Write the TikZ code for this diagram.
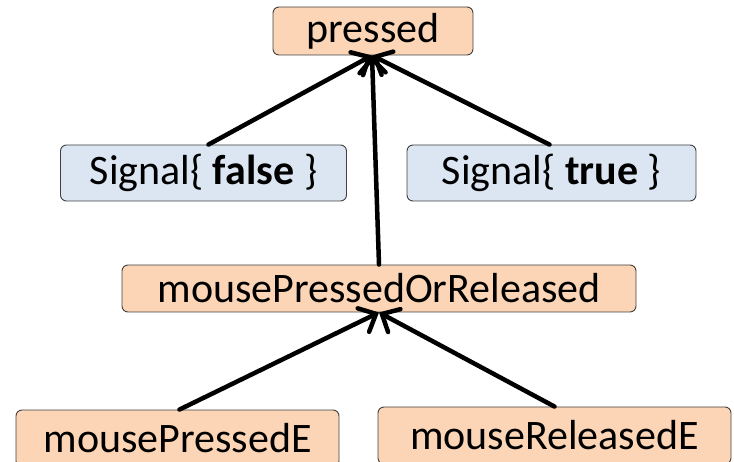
\documentclass[tikz,border=0pt]{standalone}
\usepackage{fontspec}
\setmainfont{Carlito}
\usetikzlibrary{arrows.meta,calc}
\definecolor{peach}{HTML}{FBD5B5}
\definecolor{paleblue}{HTML}{DCE6F2}
\definecolor{edge}{HTML}{404040}
\tikzset{
  box/.style={draw=edge, line width=0.9pt, rounded corners=6pt, inner sep=0pt,
    font=\fontsize{42}{48}\selectfont, text=black},
  orangebox/.style={box, fill=peach},
  bluebox/.style={box, fill=paleblue},
  conn/.style={line width=4.5pt, line cap=round,
    -{Straight Barb[length=14pt, width=26pt, line cap=round]}}
}
\begin{document}
\begin{tikzpicture}[x=1pt, y=-1pt]
\useasboundingbox (0,0) rectangle (734,462);
\node[orangebox, minimum width=200pt, minimum height=48pt] (pressed) at (373,31) {pressed};
\node[bluebox, minimum width=286pt, minimum height=56pt] (sigF) at (203.5,173) {Signal\{ \textbf{false} \}};
\node[bluebox, minimum width=289pt, minimum height=56pt] (sigT) at (551.5,173) {Signal\{ \textbf{true} \}};
\node[orangebox, minimum width=514pt, minimum height=47pt] (mpor) at (379,288.5) {mousePressedOrReleased};
\node[orangebox, minimum width=323pt, minimum height=57pt] (mpe) at (177.5,438.5) {mousePressedE};
\node[orangebox, minimum width=353pt, minimum height=57pt] (mre) at (554.5,435.5) {mouseReleasedE};

\draw[conn] ($(sigF.north)+(5,0)$) -- ($(pressed.south)+(-1,0)$);
\draw[conn] ($(sigT.north)+(-2,0)$) -- ($(pressed.south)+(-1,0)$);
\draw[conn] (mpor.north) -- ($(pressed.south)+(-1,0)$);
\draw[conn] ($(mpe.north)+(2,0)$) -- (mpor.south);
\draw[conn] (mre.north) -- (mpor.south);
\end{tikzpicture}
\end{document}
